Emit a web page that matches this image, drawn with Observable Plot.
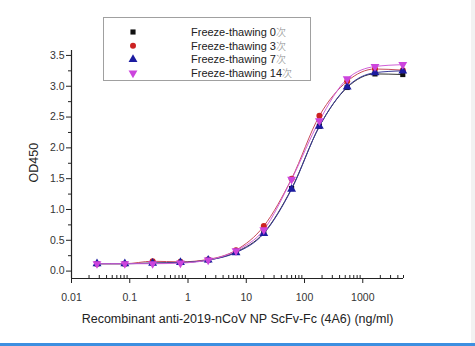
<!DOCTYPE html>
<html><head><meta charset="utf-8">
<script src="https://cdn.jsdelivr.net/npm/d3@7"></script>
<script src="https://cdn.jsdelivr.net/npm/@observablehq/plot@0.6"></script>
<style>
body{margin:0;background:#fff;}
#wrap{position:relative;width:475px;height:346px;overflow:hidden;background:#fff;font-family:"Liberation Sans",Arial,sans-serif;}
#strip{position:absolute;right:0;top:0;width:4px;height:346px;background:#f2f2f2;}
#bar{position:absolute;left:0;bottom:0;width:475px;height:3px;background:#3d8fe0;}
#legend{position:absolute;left:103px;top:17px;width:208px;height:64px;border:1px solid #a0a0a0;background:#fff;box-sizing:border-box;}
svg{display:block;}
</style></head><body>
<div id="wrap"><div id="chart"></div><div id="legend"></div><div id="strip"></div><div id="bar"></div></div>
<script>
// ---- data ----
const concentrations = [0.0274, 0.0823, 0.247, 0.741, 2.22, 6.67, 20, 60, 180, 540, 1620, 4860];
const seriesLabels = ["Freeze-thawing 0", "Freeze-thawing 3", "Freeze-thawing 7", "Freeze-thawing 14"];
const seriesSuffix = "次";
const od_ft0  = [0.12, 0.12, 0.13, 0.14, 0.18, 0.31, 0.62, 1.34, 2.35, 2.98, 3.20, 3.19];
const od_ft3  = [0.12, 0.12, 0.16, 0.15, 0.19, 0.34, 0.73, 1.50, 2.52, 3.08, 3.28, 3.26];
const od_ft7  = [0.12, 0.12, 0.13, 0.14, 0.18, 0.30, 0.61, 1.33, 2.35, 2.99, 3.22, 3.25];
const od_ft14 = [0.12, 0.12, 0.12, 0.13, 0.18, 0.33, 0.67, 1.49, 2.44, 3.12, 3.32, 3.35];
const xTickValues = [0.01, 0.1, 1, 10, 100, 1000];
const xTickLabels = ["0.01", "0.1", "1", "10", "100", "1000"];
const yTickValues = [0, 0.5, 1, 1.5, 2, 2.5, 3, 3.5];
const yMinorValues = [0.25, 0.75, 1.25, 1.75, 2.25, 2.75, 3.25];
const xDomain = [0.01, 5000];
const yDomain = [-0.12, 3.58];
const xLabel = "Recombinant anti-2019-nCoV NP ScFv-Fc (4A6) (ng/ml)";
const yLabel = "OD450";

// ---- styles ----
const markerColors = ["#111111", "#cc2222", "#1c1ca0", "#cc44dd"];
const lineColors = ["#333333", "#c84a5a", "#3a3a9a", "#d060d8"];
const triangleDown = {
  draw(ctx, size) {
    const y = -Math.sqrt(size / (Math.sqrt(3) * 3));
    ctx.moveTo(0, -y * 2);
    ctx.lineTo(-Math.sqrt(3) * y, y);
    ctx.lineTo(Math.sqrt(3) * y, y);
    ctx.closePath();
  }
};
const symbols = ["square", "circle", "triangle", triangleDown];
const symbolR = [2.9, 3.0, 3.3, 3.3];

const seriesValues = [od_ft0, od_ft3, od_ft7, od_ft14];
const series = seriesValues.map((vals, i) => concentrations.map((c, j) => ({x: c, y: vals[j], s: i})));

// minor ticks on log x
const xMinor = [];
for (let e = -2; e <= 3; e++) for (let m = 2; m <= 9; m++) { const v = m * Math.pow(10, e); if (v <= xDomain[1]) xMinor.push(v); }

const marks = [];
series.forEach((d, i) => {
  marks.push(Plot.line(d, {x: "x", y: "y", stroke: lineColors[i], strokeWidth: 1, curve: "monotone-x"}));
});
series.forEach((d, i) => {
  marks.push(Plot.dot(d, {x: "x", y: "y", fill: markerColors[i], stroke: "none", symbol: symbols[i], r: symbolR[i]}));
});
marks.push(
  Plot.ruleY([yDomain[0]], {stroke: "#222", strokeWidth: 1.2}),
  Plot.ruleX([xDomain[0]], {stroke: "#222", strokeWidth: 1.2}),
  Plot.axisX(xTickValues, {label: null, tickSize: 5, tickPadding: 10, tickFormat: d => xTickLabels[xTickValues.indexOf(d)], fontSize: 10.5, stroke: "#222", fill: "#333"}),
  Plot.axisX(xMinor, {label: null, tickSize: 3, dy: -3, tickFormat: () => "", stroke: "#222"}),
  Plot.axisY(yTickValues, {label: null, tickSize: 5, tickPadding: 2, tickFormat: d => d.toFixed(1), fontSize: 10.5, stroke: "#222", fill: "#333"}),
  Plot.axisY(yMinorValues, {label: null, tickSize: 3, tickFormat: () => "", stroke: "#222"}),
  Plot.text([xLabel], {frameAnchor: "bottom", dy: 44, fontSize: 12.5, fill: "#222"}),
  Plot.text([yLabel], {frameAnchor: "left", dx: -38, dy: 18, rotate: -90, fontSize: 12.5, fill: "#222"})
);

const chart = Plot.plot({
  width: 475, height: 346,
  marginLeft: 71, marginRight: 72, marginTop: 50, marginBottom: 68,
  style: {fontFamily: "'Liberation Sans', Arial, sans-serif", background: "transparent", overflow: "visible"},
  x: {type: "log", domain: xDomain, axis: null},
  y: {domain: yDomain, axis: null},
  marks
});
document.getElementById("chart").appendChild(chart);

// ---- legend ----
const lg = d3.select("#legend").append("svg").attr("width", 206).attr("height", 62);
const rowY = [14, 27.7, 41.4, 55.1];
const d3sym = [d3.symbolSquare, d3.symbolCircle, d3.symbolTriangle, triangleDown];
seriesLabels.forEach((lab, i) => {
  const area = Math.PI * symbolR[i] * symbolR[i];
  lg.append("path").attr("d", d3.symbol(d3sym[i], area)()).attr("transform", `translate(29,${rowY[i]})`).attr("fill", markerColors[i]);
  const t = lg.append("text").attr("x", 87).attr("y", rowY[i]).attr("dy", "0.35em")
    .attr("font-size", 11).attr("fill", "#222").attr("font-family", "'Liberation Sans', Arial, sans-serif").text(lab);
  t.append("tspan").attr("fill", "#8a8a8a").attr("font-size", 10).attr("font-family", "'Noto Sans CJK SC', sans-serif").attr("font-weight", 300).text(seriesSuffix);
});
</script>
</body></html>
